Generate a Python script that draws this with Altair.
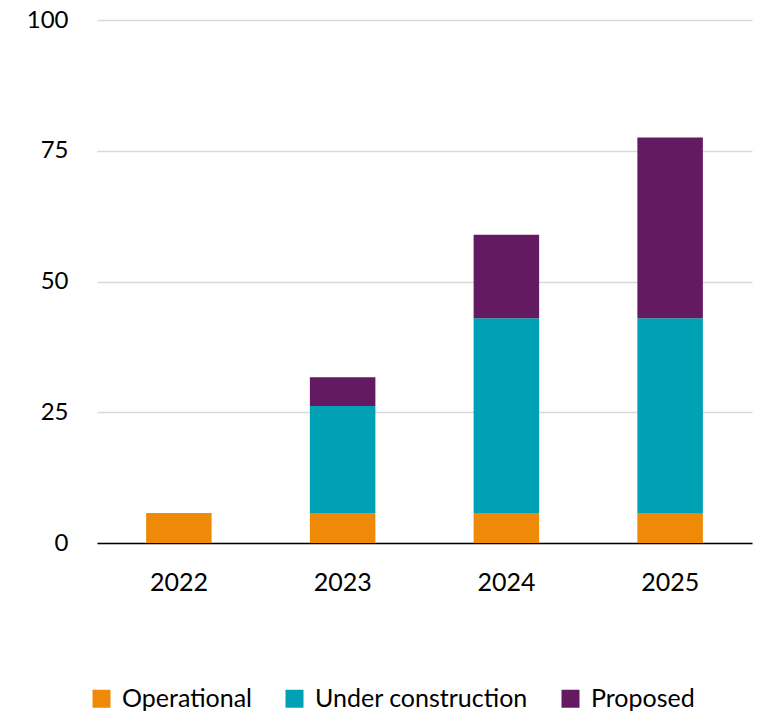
import altair as alt
import pandas as pd

years = ["2022", "2023", "2024", "2025"]
series = ["Operational", "Under construction", "Proposed"]
operational = [5.75, 5.75, 5.75, 5.75]
under_construction = [0.0, 20.45, 37.2, 37.2]
proposed = [0.0, 5.5, 16.0, 34.6]
colors = ["#EE8A08", "#00A0B5", "#641A60"]
y_ticks = [0, 25, 50, 75, 100]

rows = []
for i, y in enumerate(years):
    for k, (s, vals) in enumerate(zip(series, [operational, under_construction, proposed])):
        rows.append({"year": y, "series": s, "value": vals[i], "order": k})
df = pd.DataFrame(rows)

FONT = "Lato"

chart = alt.Chart(df).mark_bar().encode(
    x=alt.X("year:N", sort=years, title=None,
            scale=alt.Scale(paddingInner=0.6, paddingOuter=0.3),
            axis=alt.Axis(labelAngle=0, labelFontSize=25, labelFont=FONT, labelColor="#000000",
                          labelPadding=27, ticks=False, domainColor="#000000", domainWidth=1.6,
                          grid=False)),
    y=alt.Y("value:Q", stack="zero", title=None,
            scale=alt.Scale(domain=[0, 100], nice=False),
            axis=alt.Axis(values=y_ticks, labelFontSize=24, labelFont=FONT, labelColor="#000000",
                          labelPadding=29, ticks=False, domain=False, gridColor="#d9d9d9",
                          gridWidth=1.5)),
    color=alt.Color("series:N", sort=series,
                    scale=alt.Scale(domain=series, range=colors),
                    legend=alt.Legend(title=None, orient="none", direction="horizontal",
                                      legendX=-8, legendY=666, symbolType="square",
                                      symbolSize=324, symbolStrokeWidth=0, symbolOpacity=1,
                                      labelFontSize=25, labelFont=FONT, labelColor="#000000",
                                      labelOffset=8, columnPadding=30, padding=0,
                                      labelLimit=0)),
    order=alt.Order("order:Q"),
).properties(
    width=655, height=523,
    autosize=alt.AutoSizeParams(type="none"),
    padding={"left": 89, "top": 12, "right": 7, "bottom": 172},
).configure_view(stroke=None)

chart.save("out.html", embed_options={"renderer": "svg", "actions": False})
